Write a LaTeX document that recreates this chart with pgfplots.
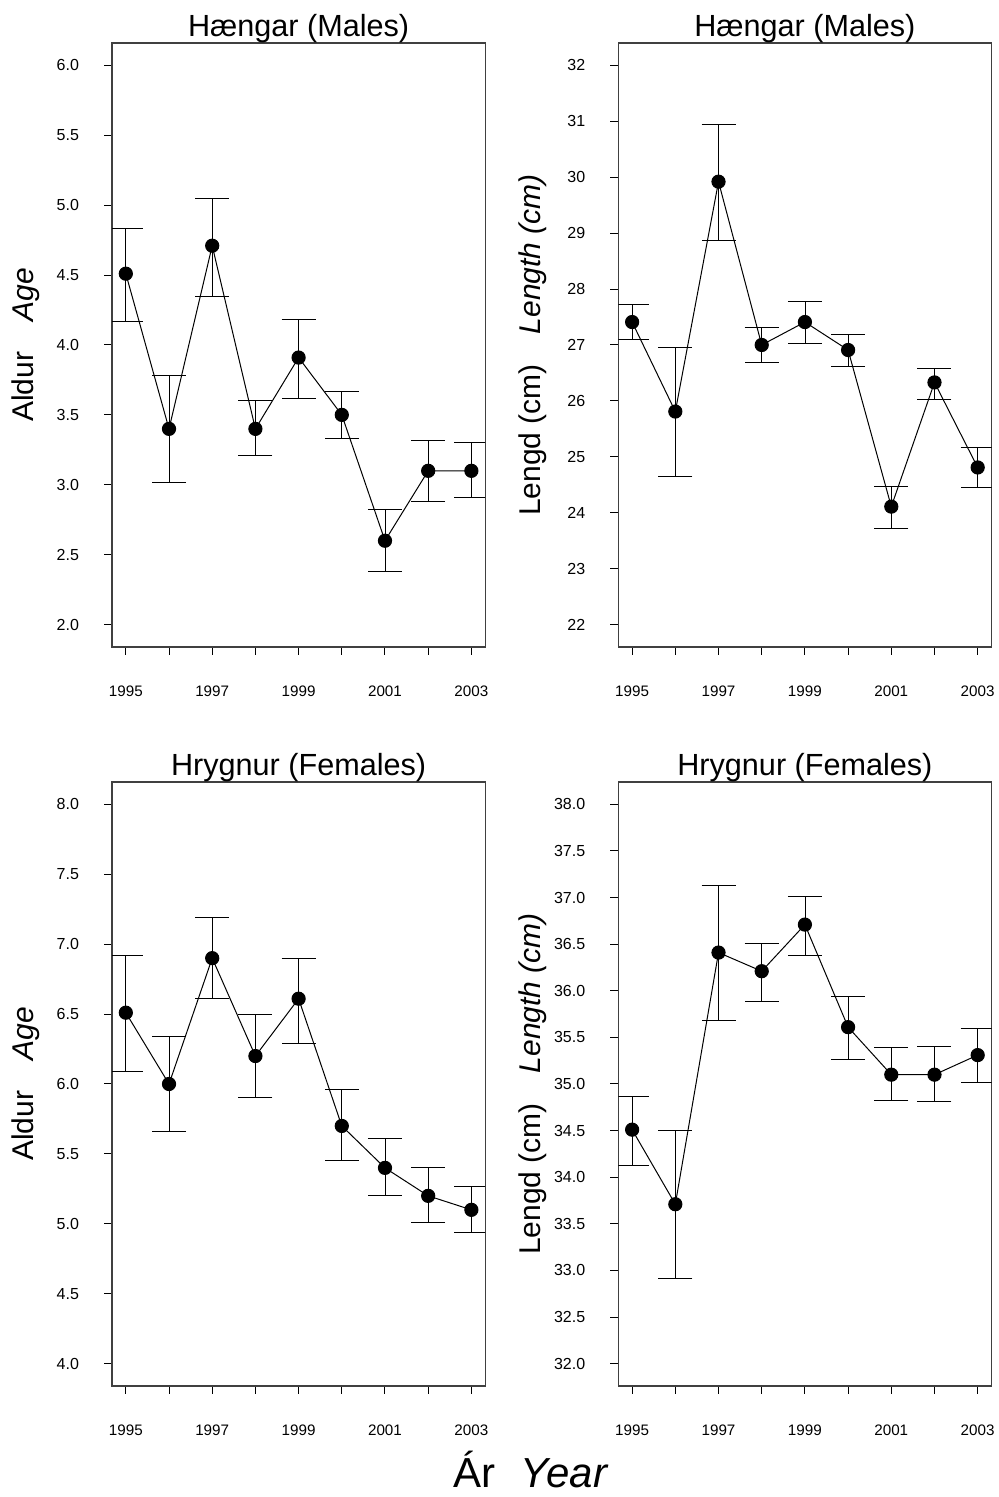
\documentclass[border=0pt]{standalone}
\usepackage{fontspec}
\setmainfont{Liberation Sans}
\usepackage{pgfplots}
\usepackage{pgfplotstable}
\pgfplotsset{compat=1.18}

% mean, upper and lower end of the error bar
\pgfplotstableread{
year y hi lo
1995 4.51 4.83 4.17
1996 3.40 3.78 3.02
1997 4.71 5.05 4.35
1998 3.40 3.60 3.21
1999 3.91 4.18 3.62
2000 3.50 3.67 3.33
2001 2.60 2.82 2.38
2002 3.10 3.32 2.88
2003 3.10 3.30 2.91
}\agemales
\pgfplotstableread{
year y hi lo
1995 27.41 27.72 27.09
1996 25.81 26.95 24.65
1997 29.92 30.94 28.87
1998 27.00 27.32 26.68
1999 27.41 27.77 27.03
2000 26.91 27.18 26.62
2001 24.11 24.47 23.71
2002 26.33 26.58 26.02
2003 24.81 25.16 24.45
}\lenmales
\pgfplotstableread{
year y hi lo
1995 6.51 6.92 6.09
1996 6.00 6.34 5.66
1997 6.90 7.19 6.61
1998 6.20 6.50 5.90
1999 6.61 6.90 6.29
2000 5.70 5.96 5.45
2001 5.40 5.61 5.20
2002 5.20 5.40 5.01
2003 5.10 5.27 4.94
}\agefemales
\pgfplotstableread{
year y hi lo
1995 34.51 34.87 34.13
1996 33.71 34.50 32.91
1997 36.41 37.13 35.68
1998 36.21 36.51 35.89
1999 36.71 37.01 36.38
2000 35.61 35.94 35.26
2001 35.10 35.39 34.82
2002 35.10 35.40 34.81
2003 35.31 35.59 35.02
}\lenfemales

\pgfplotsset{
  panel/.style={
    scale only axis, width=186.6pt, height=302pt, anchor=south west,
    xmin=1994.68, xmax=2003.32,
    xtick={1995,...,2003},
    xticklabels={1995,,1997,,1999,,2001,,2003},
    tick pos=left, tick align=outside, major tick length=4pt,
    axis line style={black!75, line width=0.6pt},
    every tick/.style={black, line width=0.5pt},
    /pgf/number format/assume math mode=true,
    xticklabel style={font=\fontsize{7.6}{9}\selectfont, anchor=base, yshift=-21pt},
    yticklabel style={font=\fontsize{8}{9}\selectfont, xshift=-9pt},
    every axis title shift=0pt,
    title style={at={(axis description cs:0.5,1)}, anchor=base, yshift=3.2pt,
      font=\fontsize{15.3}{18}\selectfont},
    every axis y label/.style={at={(axis description cs:-0.23,0.5)}, rotate=90,
      anchor=center, font=\fontsize{15}{18}\selectfont},
  },
  onedec/.style={yticklabel style={/pgf/number format/.cd, fixed, fixed zerofill, precision=1}},
  meanline/.style={black, line width=0.5pt, mark=*, mark size=3.3pt,
    mark options={fill=black},
    error bars/.cd, y dir=both, y explicit,
    error mark options={rotate=90, mark size=8.5pt, line width=0.5pt, black}},
}

\newcommand{\series}[1]{%
  \addplot[meanline] table[x=year, y=y,
    y error plus expr=\thisrow{hi}-\thisrow{y},
    y error minus expr=\thisrow{y}-\thisrow{lo}] {#1};}

\begin{document}
\begin{tikzpicture}
\path[use as bounding box] (0,0) rectangle (499pt,748.5pt);

\begin{axis}[panel, onedec, at={(56pt,425pt)},
    ymin=1.84, ymax=6.16, ytick={2,2.5,...,6},
    title={Hængar (Males)}, ylabel={Aldur\quad\textit{Age}}]
  \series{\agemales}
\end{axis}

\begin{axis}[panel, at={(309.15pt,425pt)},
    ymin=21.6, ymax=32.4, ytick={22,...,32},
    title={Hængar (Males)}, ylabel={Lengd (cm)\quad\textit{Length (cm)}}]
  \series{\lenmales}
\end{axis}

\begin{axis}[panel, onedec, at={(56pt,55.5pt)},
    ymin=3.84, ymax=8.16, ytick={4,4.5,...,8},
    title={Hrygnur (Females)}, ylabel={Aldur\quad\textit{Age}}]
  \series{\agefemales}
\end{axis}

\begin{axis}[panel, onedec, at={(309.15pt,55.5pt)},
    ymin=31.76, ymax=38.24, ytick={32,32.5,...,38},
    title={Hrygnur (Females)}, ylabel={Lengd (cm)\quad\textit{Length (cm)}}]
  \series{\lenfemales}
\end{axis}

\node[anchor=base, inner sep=0pt, font=\fontsize{21}{23}\selectfont] at (265.5pt,5pt) {Ár\hspace{0.6em}\textit{Year}};
\end{tikzpicture}
\end{document}
